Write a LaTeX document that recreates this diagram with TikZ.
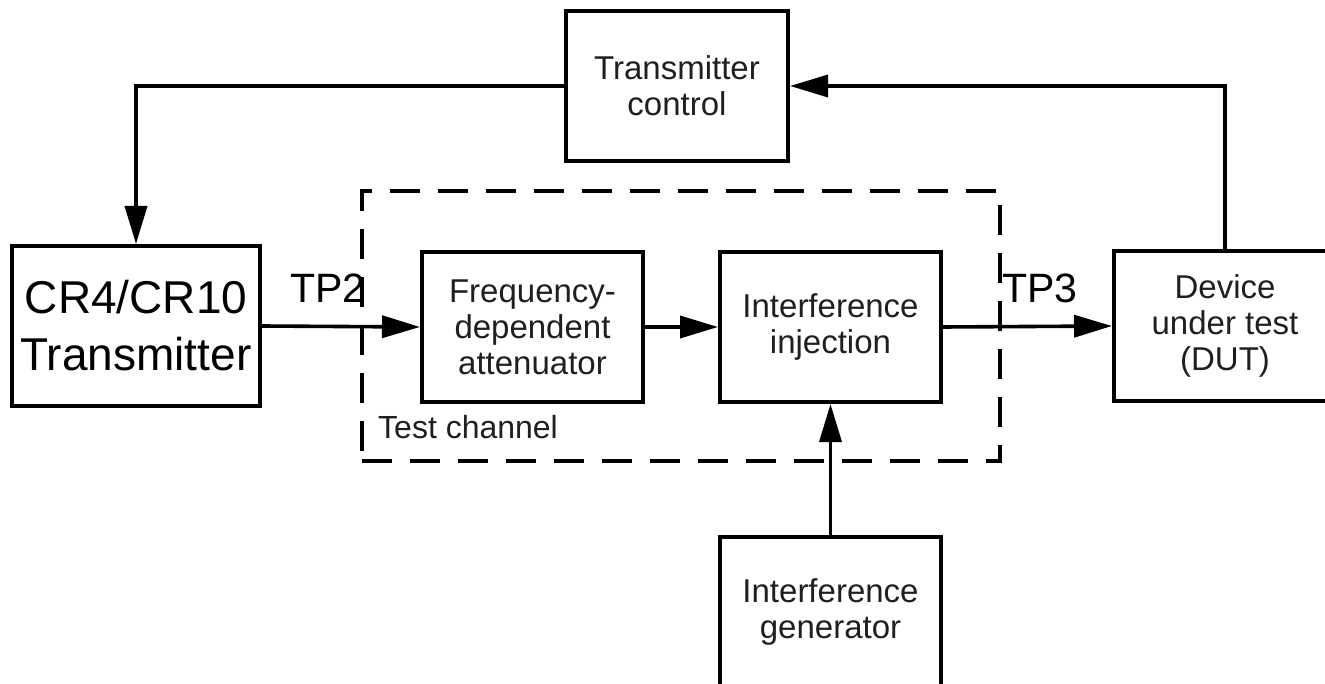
\documentclass[tikz,border=0pt]{standalone}
\usepackage{fontspec}
\setmainfont{Liberation Sans}
\usetikzlibrary{arrows.meta}
\tikzset{
  blk/.style={draw, line width=4pt, rectangle, inner sep=0pt, align=center,
    font=\fontsize{33}{36}\selectfont, text=black!88},
  conn/.style={line width=3.6pt, -{Triangle[length=38pt,width=22pt]}},
  tplabel/.style={font=\fontsize{41}{46}\selectfont, inner sep=0pt, anchor=base west},
}
\begin{document}
\begin{tikzpicture}[x=1pt,y=-1pt]
\useasboundingbox (0,0) rectangle (1325,684);
\begin{scope}
\clip (0,0) rectangle (1325,684);
\node[blk, minimum width=222pt, minimum height=150pt] (ctrl) at (677,86) {Transmitter\\control};
\node[blk, minimum width=248pt, minimum height=160pt, font=\fontsize{46}{57}\selectfont, text=black] (tx) at (136,326) {CR4/CR10\\Transmitter};
\node[blk, minimum width=221pt, minimum height=150pt] (att) at (532.5,327) {Frequency-\\dependent\\attenuator};
\node[blk, minimum width=221pt, minimum height=150pt] (inj) at (830.5,327) {Interference\\injection};
\node[blk, minimum width=222pt, minimum height=150pt] (dut) at (1225,326) {Device\\under test\\(DUT)};
\node[blk, minimum width=221pt, minimum height=150pt] (gen) at (830.5,612) {Interference\\generator};
\node[draw, dashed, line width=3.6pt, dash pattern=on 30pt off 18pt, inner sep=0pt,
      minimum width=638pt, minimum height=270pt] (chan) at (681,326) {};
\node[font=\fontsize{32}{36}\selectfont, text=black!88, inner sep=0pt, anchor=base west] (chanlbl) at (378,438) {Test channel};
\node[tplabel] (tp2) at (290,303) {TP2};
\node[tplabel] (tp3) at (1002,303) {TP3};
\draw[conn] (ctrl.west) -| (tx.north);
\draw[conn] (dut.north) |- (ctrl.east);
\draw[conn] (tx.east) -- (att.west);
\draw[conn] (att.east) -- (inj.west);
\draw[conn] (inj.east) -- (dut.west);
\draw[conn] (gen.north) -- (inj.south);
\end{scope}
\end{tikzpicture}
\end{document}
